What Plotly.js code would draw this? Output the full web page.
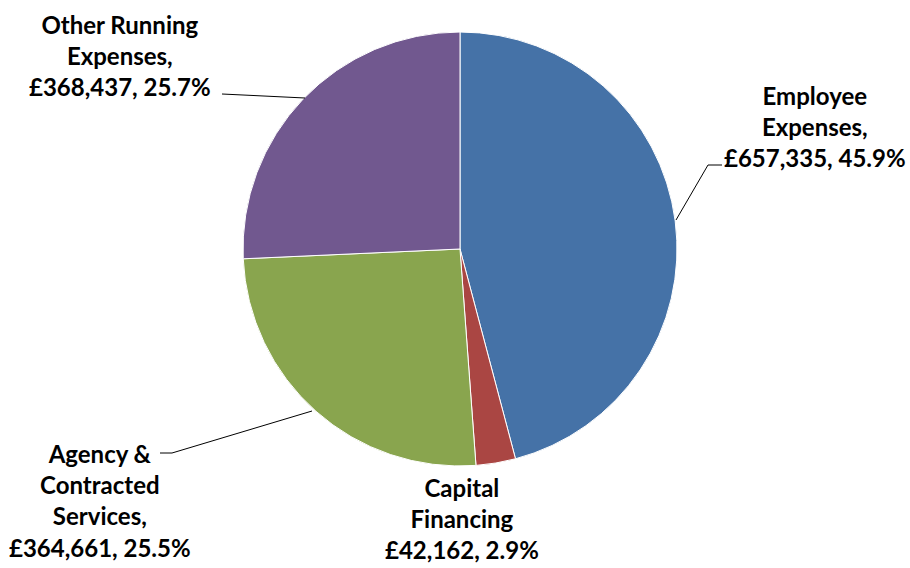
<!DOCTYPE html>
<html>
<head>
<meta charset="utf-8">
<script src="https://cdn.plot.ly/plotly-3.0.1.min.js"></script>
<style>html,body{margin:0;padding:0;background:#fff;}#chart{width:910px;height:568px;}</style>
</head>
<body>
<div id="chart"></div>
<script>
const categories = ["Employee Expenses", "Capital Financing", "Agency & Contracted Services", "Other Running Expenses"];
const labelLines = ["Employee<br>Expenses,", "Capital<br>Financing", "Agency &<br>Contracted<br>Services,", "Other Running<br>Expenses,"];
const values = [657335, 42162, 364661, 368437];
const colors = ["#4572A7", "#AA4643", "#89A54E", "#71588F"];

const W = 910, H = 568;
const total = values.reduce((a, b) => a + b, 0);
const fmt = v => "£" + v.toLocaleString("en-GB");
const texts = values.map((v, i) => labelLines[i] + "<br>" + fmt(v) + ", " + (v / total * 100).toFixed(1) + "%");

// label placement (pixels) and leader lines
const labelPos = [[815, 127], [462, 518], [100, 500], [120, 55]];
const leaders = [
  [[722, 165], [708, 165], [676, 220]],
  null,
  [[160, 453], [172, 453], [312, 411]],
  [[222, 94], [305, 98]]
];
const px = x => x / W, py = y => 1 - y / H;

const annotations = texts.map((t, i) => ({
  text: t, xref: "paper", yref: "paper",
  x: px(labelPos[i][0]), y: py(labelPos[i][1]),
  xanchor: "center", yanchor: "middle", showarrow: false, align: "center",
  font: {family: "Lato, 'Open Sans', sans-serif", size: 24, color: "#000", weight: "bold"}
}));

const shapes = [];
leaders.forEach(l => {
  if (!l) return;
  for (let k = 0; k < l.length - 1; k++) {
    shapes.push({type: "line", xref: "paper", yref: "paper",
      x0: px(l[k][0]), y0: py(l[k][1]), x1: px(l[k + 1][0]), y1: py(l[k + 1][1]),
      line: {color: "#000", width: 1}});
  }
});

const cx = 460, cy = 249, r = 217;
const trace = {
  type: "pie", labels: categories, values: values, sort: false,
  direction: "clockwise", rotation: 0,
  marker: {colors: colors, line: {color: "#ffffff", width: 1}},
  textinfo: "none", hoverinfo: "none",
  domain: {x: [px(cx - r), px(cx + r)], y: [py(cy + r), py(cy - r)]}
};

Plotly.newPlot("chart", [trace], {
  width: W, height: H, margin: {l: 0, r: 0, t: 0, b: 0},
  showlegend: false, paper_bgcolor: "#fff",
  annotations: annotations, shapes: shapes
}, {staticPlot: true});
</script>
</body>
</html>
